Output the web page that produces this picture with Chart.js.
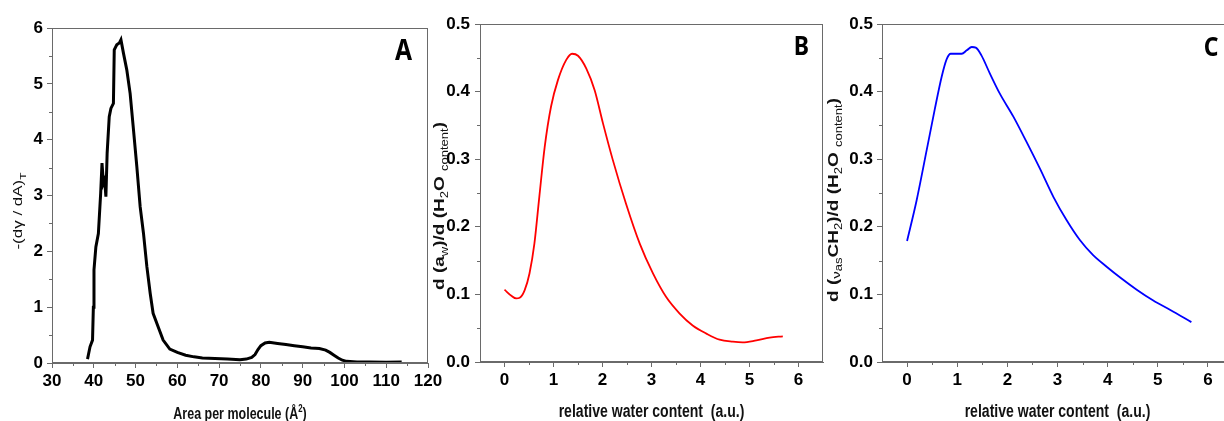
<!DOCTYPE html>
<html><head><meta charset="utf-8">
<script src="https://cdn.jsdelivr.net/npm/chart.js@4.4.1/dist/chart.umd.min.js"></script>
<style>
html,body{margin:0;padding:0;background:#fff;overflow:hidden;width:1224px;height:421px;position:relative}
.p{position:absolute;top:0;height:421px}
</style></head>
<body>
<div class="p" style="left:0;width:460px"><canvas id="cA" width="460" height="421"></canvas></div>
<div class="p" style="left:420px;width:420px"><canvas id="cB" width="420" height="421"></canvas></div>
<div class="p" style="left:820px;width:430px"><canvas id="cC" width="430" height="421"></canvas></div>
<script>
// ---------- data ----------
const areaA = [38.5,39.1,39.7,39.9,40.05,40.5,41.1,41.65,41.97,42.3,42.6,42.9,43.2,43.7,44.1,44.7,44.9,45.5,46.1,46.5,47.1,47.9,48.7,49.5,50.3,51.1,51.9,52.7,53.5,54.2,55.4,56.6,58.2,60.0,62.0,64.0,66.0,69.0,72.0,75.0,76.5,77.8,78.6,79.3,80.0,81.0,82.0,84.0,86.0,88.0,90.0,92.0,94.0,95.5,96.5,97.5,98.5,99.5,100.5,103.0,106.0,110.0,113.7];
const derivA = [0.07,0.29,0.41,1.00,1.67,2.08,2.32,3.04,3.58,3.22,3.28,2.98,3.76,4.41,4.56,4.65,5.61,5.70,5.73,5.79,5.55,5.25,4.83,4.18,3.52,2.80,2.32,1.73,1.25,0.89,0.65,0.41,0.25,0.19,0.14,0.11,0.09,0.08,0.07,0.06,0.07,0.10,0.15,0.24,0.31,0.36,0.37,0.35,0.33,0.31,0.29,0.27,0.26,0.23,0.19,0.14,0.09,0.05,0.03,0.02,0.02,0.015,0.02];

const waterB = [0,0.14,0.24,0.31,0.41,0.51,0.61,0.71,0.82,0.95,1.09,1.26,1.38,1.50,1.67,1.84,2.01,2.21,2.48,2.76,3.03,3.30,3.57,3.84,4.12,4.39,4.66,4.86,5.14,5.41,5.68];
const dawB   = [0.107,0.098,0.094,0.095,0.106,0.131,0.175,0.244,0.318,0.378,0.417,0.447,0.456,0.453,0.434,0.402,0.353,0.299,0.234,0.175,0.131,0.096,0.072,0.054,0.042,0.033,0.030,0.029,0.032,0.036,0.038];

const waterC = [0,0.19,0.39,0.55,0.69,0.79,0.87,1.09,1.19,1.29,1.37,1.48,1.65,1.85,2.12,2.38,2.65,2.92,3.18,3.45,3.71,3.98,4.25,4.58,4.91,5.25,5.67];
const dch2C  = [0.179,0.239,0.313,0.373,0.422,0.448,0.456,0.456,0.461,0.466,0.465,0.454,0.427,0.397,0.363,0.326,0.286,0.244,0.210,0.180,0.158,0.141,0.125,0.107,0.091,0.077,0.059];

// ---------- ticks ----------
const xTicksA = [30,40,50,60,70,80,90,100,110,120];
const xMinorA = [35,45,55,65,75,85,95,105,115];
const yTicksA = [0,1,2,3,4,5,6];
const yMinorA = [0.5,1.5,2.5,3.5,4.5,5.5];
const xTicksBC = [0,1,2,3,4,5,6];
const xMinorBC = [0.5,1.5,2.5,3.5,4.5,5.5];
const yTicksBC = [0,0.1,0.2,0.3,0.4,0.5];
const yMinorBC = [0.05,0.15,0.25,0.35,0.45];

// ---------- fonts ----------
function hasFont(name){
  const c=document.createElement('canvas').getContext('2d');
  c.font='bold 20px monospace'; const a=c.measureText('0.5 120 abc').width;
  c.font='bold 20px "'+name+'", monospace'; return c.measureText('0.5 120 abc').width!==a;
}
const narrow = hasFont('Liberation Sans Narrow');
const tickFont = narrow ? {family:'"Liberation Sans Narrow"', size:19, weight:'bold'}
                        : {family:'"Liberation Sans", Arial, sans-serif', size:17, weight:'bold'};
const FAM = '"Liberation Sans", Arial, sans-serif';
const LETTERFAM = hasFont('Noto Sans') ? '"Noto Sans"' : (hasFont('Open Sans') ? '"Open Sans"' : FAM);
const SQ = 0.78;

function richText(ctx, segs, x, y, rotate){
  ctx.save();
  ctx.translate(x,y);
  ctx.scale(SQ,1);
  if(rotate) ctx.rotate(-Math.PI/2);
  ctx.textBaseline='alphabetic';
  ctx.textAlign='left';
  let total=0;
  segs.forEach(s=>{ctx.font=s.f; s.w=ctx.measureText(s.t).width; total+=s.w;});
  let cx=-total/2;
  segs.forEach(s=>{ctx.font=s.f; ctx.fillStyle='#111'; ctx.fillText(s.t,cx,(s.dy||0)); cx+=s.w;});
  ctx.restore();
}

function panelPlugin(o){
  return {
    id:'panel'+o.letter,
    afterDraw(chart){
      const ctx=chart.ctx, a=chart.chartArea, xs=chart.scales.x, ys=chart.scales.y;
      ctx.save();
      ctx.strokeStyle='#6a6a6a'; ctx.lineWidth=1;
      ctx.strokeRect(Math.round(a.left)+0.5, Math.round(a.top)+0.5, Math.round(a.right-a.left)-1, Math.round(a.bottom-a.top)-1);
      ctx.beginPath();
      o.xMinor.forEach(v=>{const p=Math.round(xs.getPixelForValue(v))+0.5; ctx.moveTo(p,a.bottom); ctx.lineTo(p,a.bottom+3);});
      o.yMinor.forEach(v=>{const p=Math.round(ys.getPixelForValue(v))+0.5; ctx.moveTo(a.left,p); ctx.lineTo(a.left-3,p);});
      ctx.stroke();
      ctx.restore();
      // axis titles
      richText(ctx, o.xTitle, (a.left+a.right)/2, o.xTitleY, false);
      richText(ctx, o.yTitle, o.yTitleX, o.yTitleY, true);
      // panel letter
      ctx.save();
      ctx.translate(o.letterX, o.letterY);
      ctx.scale(0.85,1);
      ctx.font='bold '+o.letterSize+'px '+LETTERFAM+', sans-serif';
      ctx.fillStyle='#000'; ctx.textAlign='center'; ctx.textBaseline='middle';
      ctx.fillText(o.letter,0,0);
      ctx.restore();
    }
  };
}

function makeChart(id, o){
  const gridOpt = {drawOnChartArea:false, drawTicks:true, tickLength:5, color:'#6a6a6a', tickColor:'#6a6a6a', lineWidth:1};
  return new Chart(document.getElementById(id), {
    type:'line',
    data:{datasets:[{data:o.xs.map((x,i)=>({x:x,y:o.ys[i]})), borderColor:o.color, borderWidth:o.lw,
      pointRadius:0, fill:false, tension:o.tension, cubicInterpolationMode:o.mono?'monotone':'default'}]},
    options:{
      responsive:false, devicePixelRatio:1, animation:false, events:[],
      layout:{padding:{top:o.top,right:o.right,left:0,bottom:0}},
      plugins:{legend:{display:false}, tooltip:{enabled:false}},
      scales:{
        x:{type:'linear', min:o.xMin, max:o.xMax,
          grid:gridOpt, border:{display:true,color:'#6a6a6a',width:1},
          ticks:{font:tickFont, color:'#000', padding:o.xPad, autoSkip:false, maxRotation:0, callback:v=>String(v)},
          afterBuildTicks:s=>{s.ticks=o.xTicks.map(v=>({value:v}));},
          afterFit:s=>{s.height=o.xh; s.paddingLeft=0; s.paddingRight=0;}},
        y:{type:'linear', min:o.yMin, max:o.yMax,
          grid:gridOpt, border:{display:true,color:'#6a6a6a',width:1},
          ticks:{font:tickFont, color:'#000', padding:o.yPad, autoSkip:false, callback:o.yFmt},
          afterBuildTicks:s=>{s.ticks=o.yTicks.map(v=>({value:v}));},
          afterFit:s=>{s.width=o.yw; s.paddingTop=0; s.paddingBottom=0;}}
      }
    },
    plugins:[panelPlugin(o)]
  });
}

const B = s=>'bold '+s+'px '+FAM, R = s=>s+'px '+FAM;

makeChart('cA', {
  xs:areaA, ys:derivA, color:'#000', lw:3, tension:0, mono:false,
  top:28, right:32, xh:58, yw:52, xMin:30, xMax:120, yMin:0, yMax:6,
  xTicks:xTicksA, xMinor:xMinorA, yTicks:yTicksA, yMinor:yMinorA, xPad:3, yPad:4,
  yFmt:v=>String(v),
  xTitle:[{t:'Area per molecule (Å',f:B(16)},{t:'2',f:B(10),dy:-7},{t:')',f:B(16)}], xTitleY:419,
  yTitle:[{t:'-(dγ / dA)',f:R(17)},{t:'T',f:R(12),dy:5}], yTitleX:22, yTitleY:211,
  letter:'A', letterX:403.5, letterY:51.5, letterSize:29
});

makeChart('cB', {
  xs:waterB, ys:dawB, color:'#ff0000', lw:1.8, tension:0.4, mono:true,
  top:24, right:17, xh:59, yw:60, xMin:-0.5, xMax:6.5, yMin:0, yMax:0.5,
  xTicks:xTicksBC, xMinor:xMinorBC, yTicks:yTicksBC, yMinor:yMinorBC, xPad:3, yPad:5,
  yFmt:v=>v.toFixed(1),
  xTitle:[{t:'relative water content  (a.u.)',f:B(18)}], xTitleY:417,
  yTitle:[{t:'d (a',f:B(19)},{t:'w',f:R(13),dy:5},{t:')/d (H',f:B(19)},{t:'2',f:R(13),dy:5},{t:'O ',f:B(19)},{t:'content',f:R(13),dy:5},{t:')',f:B(19)}],
  yTitleX:24, yTitleY:206,
  letter:'B', letterX:381.5, letterY:47.5, letterSize:27
});

makeChart('cC', {
  xs:waterC, ys:dch2C, color:'#0000ff', lw:1.8, tension:0.4, mono:true,
  top:24, right:17, xh:59, yw:62, xMin:-0.5, xMax:6.5, yMin:0, yMax:0.5,
  xTicks:xTicksBC, xMinor:xMinorBC, yTicks:yTicksBC, yMinor:yMinorBC, xPad:3, yPad:4,
  yFmt:v=>v.toFixed(1),
  xTitle:[{t:'relative water content  (a.u.)',f:B(18)}], xTitleY:417,
  yTitle:[{t:'d (',f:B(19)},{t:'ν',f:R(15),dy:2},{t:'as',f:R(13),dy:5},{t:'CH',f:B(19)},{t:'2',f:R(13),dy:5},{t:')/d (H',f:B(19)},{t:'2',f:R(13),dy:5},{t:'O ',f:B(19)},{t:'content',f:R(13),dy:5},{t:')',f:B(19)}],
  yTitleX:18, yTitleY:200,
  letter:'C', letterX:391, letterY:48.5, letterSize:27
});
</script>
</body></html>
